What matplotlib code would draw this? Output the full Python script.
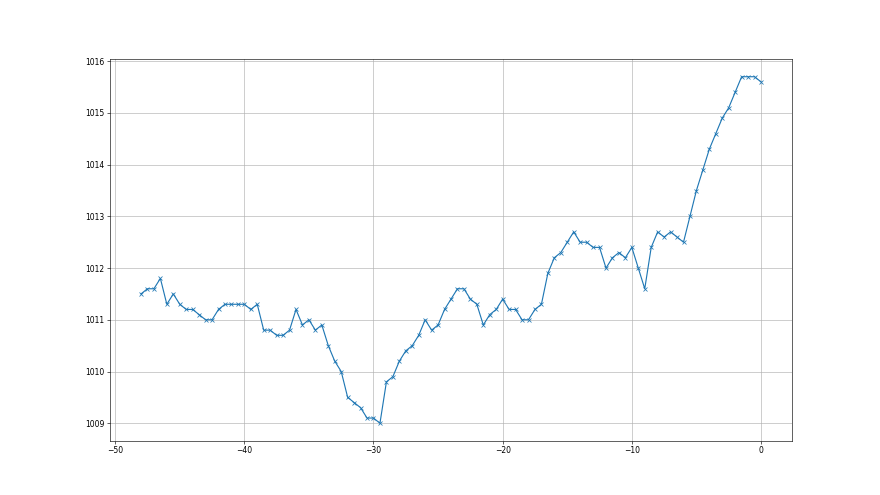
import matplotlib
matplotlib.use("Agg")
import matplotlib.pyplot as plt
import numpy as np

x = np.arange(-48, 0.01, 0.5)
pressure = [
    1011.5, 1011.6, 1011.6, 1011.8, 1011.3, 1011.5, 1011.3, 1011.2, 1011.2, 1011.1,
    1011.0, 1011.0, 1011.2, 1011.3, 1011.3, 1011.3, 1011.3, 1011.2, 1011.3, 1010.8,
    1010.8, 1010.7, 1010.7, 1010.8, 1011.2, 1010.9, 1011.0, 1010.8, 1010.9, 1010.5,
    1010.2, 1010.0, 1009.5, 1009.4, 1009.3, 1009.1, 1009.1, 1009.0, 1009.8, 1009.9,
    1010.2, 1010.4, 1010.5, 1010.7, 1011.0, 1010.8, 1010.9, 1011.2, 1011.4, 1011.6,
    1011.6, 1011.4, 1011.3, 1010.9, 1011.1, 1011.2, 1011.4, 1011.2, 1011.2, 1011.0,
    1011.0, 1011.2, 1011.3, 1011.9, 1012.2, 1012.3, 1012.5, 1012.7, 1012.5, 1012.5,
    1012.4, 1012.4, 1012.0, 1012.2, 1012.3, 1012.2, 1012.4, 1012.0, 1011.6, 1012.4,
    1012.7, 1012.6, 1012.7, 1012.6, 1012.5, 1013.0, 1013.5, 1013.9, 1014.3, 1014.6,
    1014.9, 1015.1, 1015.4, 1015.7, 1015.7, 1015.7, 1015.6,
]

fig, ax = plt.subplots(figsize=(16, 9), dpi=55)
ax.plot(x, pressure, marker='x', color='#1f77b4')
ax.grid(True)
fig.savefig("out.png", dpi=55)
